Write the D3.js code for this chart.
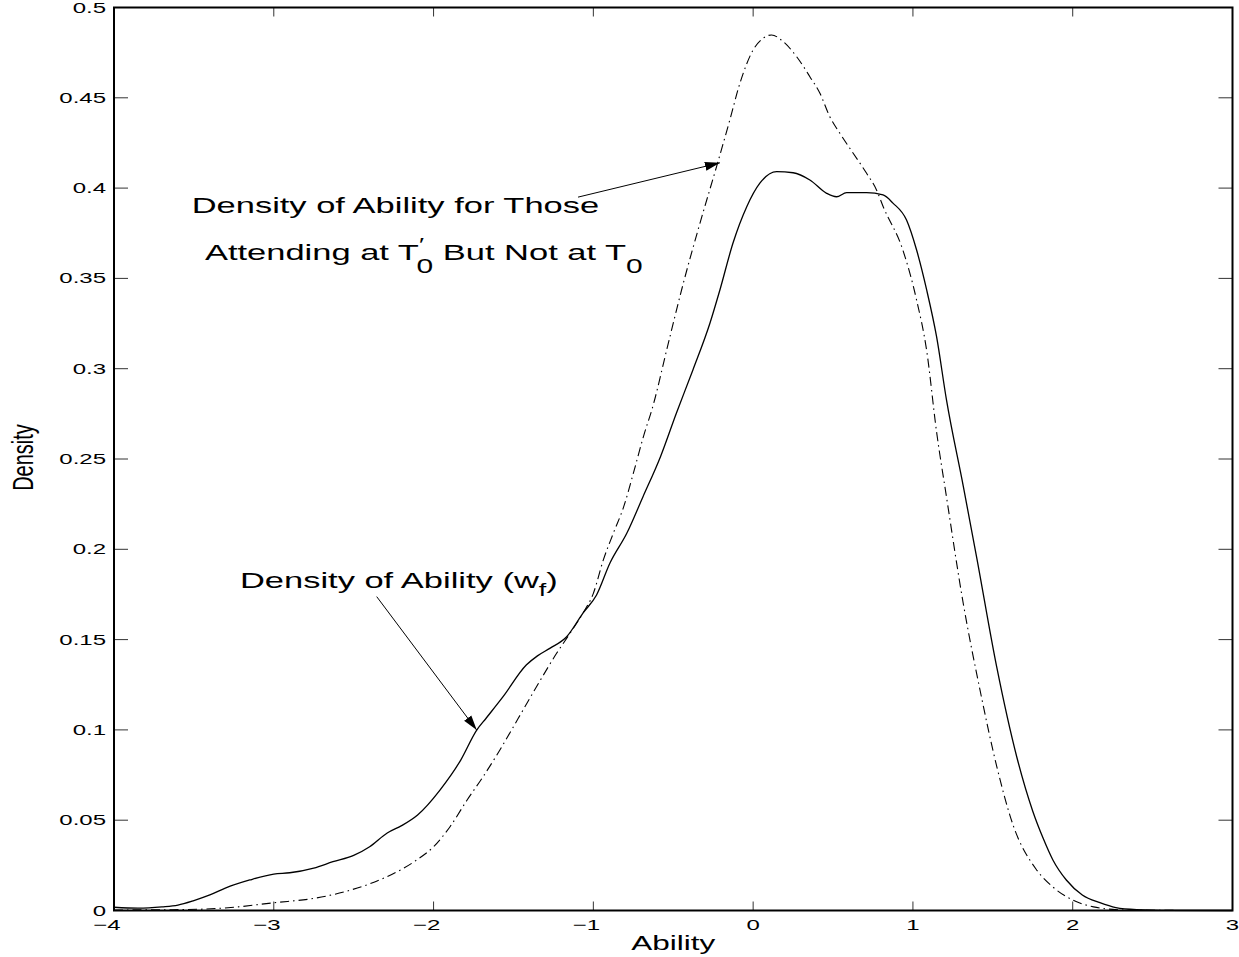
<!DOCTYPE html>
<html>
<head>
<meta charset="utf-8">
<script src="https://cdn.jsdelivr.net/npm/d3@7"></script>
<style>
body { margin: 0; background: #fff; }
svg { display: block; font-family: "Liberation Sans", Arial, Helvetica, sans-serif; }
</style>
</head>
<body>
<svg id="chart" width="1239" height="957"></svg>
<script>
// density of ability (w_f) - solid line
var solidX = [-4.0, -3.85, -3.7, -3.6, -3.5, -3.4, -3.3, -3.15, -3.0, -2.9, -2.75, -2.63, -2.5, -2.4, -2.29, -2.2, -2.1,
    -1.96, -1.83, -1.73, -1.67, -1.565, -1.42, -1.35, -1.27, -1.167, -1.065, -0.98, -0.896, -0.79, -0.69, -0.58,
    -0.48, -0.377, -0.27, -0.208, -0.126, -0.04, 0.042, 0.147, 0.25, 0.355, 0.46, 0.522, 0.585, 0.71, 0.813, 0.875,
    0.96, 1.023, 1.086, 1.148, 1.21, 1.315, 1.40, 1.524, 1.65, 1.75, 1.815, 1.876, 1.96, 2.06, 2.17, 2.27, 2.4, 2.6, 3.0];
var solidY = [0.0018, 0.0013, 0.002, 0.003, 0.0055, 0.0086, 0.0125, 0.0169, 0.0202, 0.0209, 0.0235, 0.027, 0.0305, 0.0353, 0.0429, 0.047, 0.0529,
    0.0667, 0.0833, 0.0999, 0.1066, 0.1184, 0.1359, 0.141, 0.1453, 0.1516, 0.1647, 0.1747, 0.1924, 0.209, 0.229, 0.2513,
    0.2755, 0.2993, 0.3253, 0.3436, 0.3696, 0.3897, 0.4027, 0.4091, 0.4085, 0.4045, 0.3971, 0.3952, 0.3975, 0.3975, 0.3962, 0.3917,
    0.3823, 0.3657, 0.3436, 0.3177, 0.2827, 0.235, 0.195, 0.135, 0.085, 0.055, 0.040, 0.028, 0.0169, 0.0086, 0.0043, 0.0016, 0.0005, 0.0001, 0];

// density of ability for those attending at T0' but not at T0 - dash-dot line
var dashX = [-4.0, -3.7, -3.46, -3.25, -3.0, -2.75, -2.52, -2.31, -2.105, -2.0, -1.897, -1.79, -1.69, -1.585, -1.47, -1.355,
    -1.23, -1.146, -1.065, -1.0, -0.938, -0.875, -0.81, -0.75, -0.687, -0.625, -0.541, -0.437, -0.333, -0.229, -0.146,
    -0.083, 0.0, 0.063, 0.115, 0.188, 0.272, 0.355, 0.418, 0.48, 0.543, 0.626, 0.71, 0.772, 0.814, 0.937, 1.023, 1.086,
    1.148, 1.21, 1.315, 1.42, 1.524, 1.628, 1.77, 1.876, 2.0, 2.13, 2.25, 2.4, 3.0];
var dashY = [0.0003, 0.0004, 0.0007, 0.0018, 0.0043, 0.0067, 0.0113, 0.018, 0.028, 0.0353, 0.0464, 0.0612, 0.0741, 0.0889, 0.1064, 0.124,
    0.1424, 0.1535, 0.1647, 0.1756, 0.194, 0.2089, 0.2236, 0.242, 0.2623, 0.28, 0.3104, 0.3473, 0.3805, 0.4119, 0.4377,
    0.458, 0.4765, 0.483, 0.4848, 0.4811, 0.4728, 0.4617, 0.4525, 0.4395, 0.4303, 0.4193, 0.4082, 0.399, 0.3897, 0.3657, 0.338, 0.310,
    0.265, 0.229, 0.17, 0.122, 0.08, 0.047, 0.023, 0.013, 0.0058, 0.002, 0.0006, 0.0001, 0];

var xTicks = [-4, -3, -2, -1, 0, 1, 2, 3];
var xTickLabels = ["\u22124", "\u22123", "\u22122", "\u22121", "0", "1", "2", "3"];
var yTicks = [0, 0.05, 0.1, 0.15, 0.2, 0.25, 0.3, 0.35, 0.4, 0.45, 0.5];
var yTickLabels = ["0", "0.05", "0.1", "0.15", "0.2", "0.25", "0.3", "0.35", "0.4", "0.45", "0.5"];

// annotation anchors, in data units
var noteTopLine1 = [-3.514, 0.386];
var noteTopLine2 = [-3.431, 0.3602];
var noteBottom = [-3.212, 0.1786];
var arrowTop = [[-1.096, 0.395], [-0.208, 0.414]];
var arrowBottom = [[-2.356, 0.1738], [-1.730, 0.0999]];

var width = 1239, height = 957;
var plot = {left: 114, right: 1232.5, top: 7.5, bottom: 910.5};
var stretch = 1.5; // the figure's text is wider than tall

var x = d3.scaleLinear().domain([-4, 3]).range([plot.left, plot.right]);
var y = d3.scaleLinear().domain([0, 0.5]).range([plot.bottom, plot.top]);

var svg = d3.select("#chart");

svg.append("defs").append("marker")
    .attr("id", "head")
    .attr("markerUnits", "userSpaceOnUse")
    .attr("viewBox", "-15 -5 16 10")
    .attr("refX", 0)
    .attr("refY", 0)
    .attr("markerWidth", 16)
    .attr("markerHeight", 10)
    .attr("orient", "auto")
    .append("path")
    .attr("d", "M0,0L-15,-4.5L-15,4.5Z")
    .attr("fill", "#000");

// curves
var line = d3.line()
    .curve(d3.curveMonotoneX)
    .x(d => x(d[0]))
    .y(d => y(d[1]));

svg.append("path")
    .datum(d3.zip(dashX, dashY))
    .attr("d", line)
    .attr("fill", "none")
    .attr("stroke", "#000")
    .attr("stroke-width", 1.1)
    .attr("stroke-dasharray", "9,4,1.5,4");

svg.append("path")
    .datum(d3.zip(solidX, solidY))
    .attr("d", line)
    .attr("fill", "none")
    .attr("stroke", "#000")
    .attr("stroke-width", 1.3);

// ticks, inward on all four sides
var ticks = svg.append("g").attr("stroke", "#333").attr("stroke-width", 1);
xTicks.forEach(function(t) {
    ticks.append("line").attr("x1", x(t)).attr("x2", x(t)).attr("y1", plot.bottom).attr("y2", plot.bottom - 9);
    ticks.append("line").attr("x1", x(t)).attr("x2", x(t)).attr("y1", plot.top).attr("y2", plot.top + 9);
});
yTicks.forEach(function(t) {
    ticks.append("line").attr("x1", plot.left).attr("x2", plot.left + 14).attr("y1", y(t)).attr("y2", y(t));
    ticks.append("line").attr("x1", plot.right).attr("x2", plot.right - 14).attr("y1", y(t)).attr("y2", y(t));
});

svg.append("rect")
    .attr("x", plot.left)
    .attr("y", plot.top)
    .attr("width", plot.right - plot.left)
    .attr("height", plot.bottom - plot.top)
    .attr("fill", "none")
    .attr("stroke", "#000")
    .attr("stroke-width", 2);

function wideText(px, py, anchor, size, sx) {
    return svg.append("text")
        .attr("transform", "translate(" + px + "," + py + ") scale(" + (sx || stretch) + ",1)")
        .attr("text-anchor", anchor)
        .attr("font-size", size)
        .attr("fill", "#000");
}

// tick labels
yTicks.forEach(function(t, i) {
    wideText(plot.left - 8, Math.max(y(t) + 5, 13), "end", 15, 1.6).text(yTickLabels[i]);
});
xTicks.forEach(function(t, i) {
    // digit centred under the tick, minus sign hangs to the left
    wideText(x(t) + 6.7, plot.bottom + 19, "end", 15, 1.6).text(xTickLabels[i]);
});

// axis labels
wideText((plot.left + plot.right) / 2, 950, "middle", 21).text("Ability");
svg.append("text")
    .attr("transform", "translate(33,457.5) scale(" + stretch + ",1) rotate(-90)")
    .attr("text-anchor", "middle")
    .attr("font-size", 20)
    .text("Density");

// annotations
wideText(x(noteTopLine1[0]), y(noteTopLine1[1]), "start", 23).text("Density of Ability for Those");

var t2 = wideText(x(noteTopLine2[0]), y(noteTopLine2[1]), "start", 23);
t2.append("tspan").text("Attending at T");
t2.append("tspan").attr("font-size", 18).attr("dy", -9).text("\u2032");
t2.append("tspan").attr("font-size", 20).attr("dx", -5).attr("dy", 22).text("0");
t2.append("tspan").attr("dy", -13).text(" But Not at T");
t2.append("tspan").attr("font-size", 20).attr("dy", 13).text("0");

var t3 = wideText(x(noteBottom[0]), y(noteBottom[1]), "start", 23);
t3.append("tspan").text("Density of Ability (w");
t3.append("tspan").attr("font-size", 18).attr("dy", 8).text("f");
t3.append("tspan").attr("dy", -8).text(")");

[arrowTop, arrowBottom].forEach(function(a) {
    svg.append("line")
        .attr("x1", x(a[0][0])).attr("y1", y(a[0][1]))
        .attr("x2", x(a[1][0])).attr("y2", y(a[1][1]))
        .attr("stroke", "#000")
        .attr("stroke-width", 1)
        .attr("marker-end", "url(#head)");
});
</script>
</body>
</html>
